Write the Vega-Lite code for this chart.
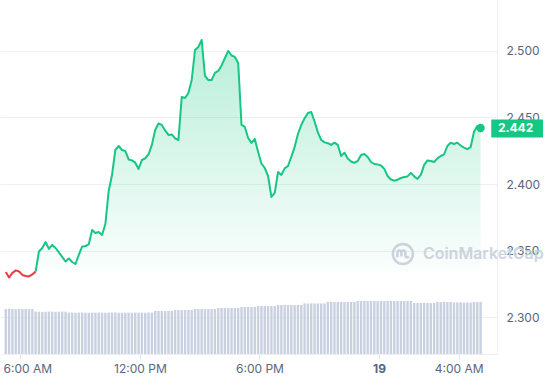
{
  "$schema": "https://vega.github.io/schema/vega-lite/v6.json",
  "width": 497,
  "height": 354,
  "autosize": {"type": "none"},
  "padding": {"left": 0, "top": 0, "right": 48, "bottom": 26},
  "background": "white",
  "config": {"view": {"stroke": null}, "font": "Inter"},
  "datasets": {
    "d": [
      {"t":"2024-03-18T05:16:00Z","p":2.3340,"v":5.08},
      {"t":"2024-03-18T05:26:00Z","p":2.3299,"v":5.10},
      {"t":"2024-03-18T05:36:00Z","p":2.3333,"v":5.08},
      {"t":"2024-03-18T05:46:00Z","p":2.3352,"v":5.06},
      {"t":"2024-03-18T05:56:00Z","p":2.3344,"v":5.10},
      {"t":"2024-03-18T06:06:00Z","p":2.3318,"v":5.08},
      {"t":"2024-03-18T06:16:00Z","p":2.3310,"v":5.09},
      {"t":"2024-03-18T06:26:00Z","p":2.3307,"v":5.06},
      {"t":"2024-03-18T06:36:00Z","p":2.3322,"v":5.08},
      {"t":"2024-03-18T06:46:00Z","p":2.3344,"v":4.80},
      {"t":"2024-03-18T06:56:00Z","p":2.3494,"v":4.78},
      {"t":"2024-03-18T07:06:00Z","p":2.3520,"v":4.76},
      {"t":"2024-03-18T07:16:00Z","p":2.3565,"v":4.78},
      {"t":"2024-03-18T07:26:00Z","p":2.3513,"v":4.79},
      {"t":"2024-03-18T07:36:00Z","p":2.3543,"v":4.78},
      {"t":"2024-03-18T07:46:00Z","p":2.3520,"v":4.77},
      {"t":"2024-03-18T07:56:00Z","p":2.3487,"v":4.78},
      {"t":"2024-03-18T08:06:00Z","p":2.3453,"v":4.79},
      {"t":"2024-03-18T08:16:00Z","p":2.3419,"v":4.78},
      {"t":"2024-03-18T08:26:00Z","p":2.3442,"v":4.67},
      {"t":"2024-03-18T08:36:00Z","p":2.3415,"v":4.67},
      {"t":"2024-03-18T08:46:00Z","p":2.3400,"v":4.66},
      {"t":"2024-03-18T08:56:00Z","p":2.3468,"v":4.67},
      {"t":"2024-03-18T09:06:00Z","p":2.3530,"v":4.68},
      {"t":"2024-03-18T09:16:00Z","p":2.3535,"v":4.67},
      {"t":"2024-03-18T09:26:00Z","p":2.3547,"v":4.66},
      {"t":"2024-03-18T09:36:00Z","p":2.3655,"v":4.67},
      {"t":"2024-03-18T09:46:00Z","p":2.3633,"v":4.67},
      {"t":"2024-03-18T09:56:00Z","p":2.3640,"v":4.68},
      {"t":"2024-03-18T10:06:00Z","p":2.3618,"v":4.67},
      {"t":"2024-03-18T10:16:00Z","p":2.3700,"v":4.66},
      {"t":"2024-03-18T10:26:00Z","p":2.3948,"v":4.67},
      {"t":"2024-03-18T10:36:00Z","p":2.4068,"v":4.67},
      {"t":"2024-03-18T10:46:00Z","p":2.4255,"v":4.68},
      {"t":"2024-03-18T10:56:00Z","p":2.4285,"v":4.67},
      {"t":"2024-03-18T11:06:00Z","p":2.4255,"v":4.67},
      {"t":"2024-03-18T11:16:00Z","p":2.4248,"v":4.66},
      {"t":"2024-03-18T11:26:00Z","p":2.4184,"v":4.67},
      {"t":"2024-03-18T11:36:00Z","p":2.4177,"v":4.67},
      {"t":"2024-03-18T11:46:00Z","p":2.4160,"v":4.68},
      {"t":"2024-03-18T11:56:00Z","p":2.4113,"v":4.67},
      {"t":"2024-03-18T12:06:00Z","p":2.4180,"v":4.67},
      {"t":"2024-03-18T12:16:00Z","p":2.4193,"v":4.67},
      {"t":"2024-03-18T12:26:00Z","p":2.4222,"v":4.68},
      {"t":"2024-03-18T12:36:00Z","p":2.4293,"v":4.67},
      {"t":"2024-03-18T12:46:00Z","p":2.4405,"v":4.86},
      {"t":"2024-03-18T12:56:00Z","p":2.4454,"v":4.86},
      {"t":"2024-03-18T13:06:00Z","p":2.4443,"v":4.85},
      {"t":"2024-03-18T13:16:00Z","p":2.4402,"v":4.86},
      {"t":"2024-03-18T13:26:00Z","p":2.4368,"v":4.87},
      {"t":"2024-03-18T13:36:00Z","p":2.4372,"v":4.86},
      {"t":"2024-03-18T13:46:00Z","p":2.4342,"v":4.97},
      {"t":"2024-03-18T13:56:00Z","p":2.4330,"v":4.98},
      {"t":"2024-03-18T14:06:00Z","p":2.4653,"v":4.97},
      {"t":"2024-03-18T14:16:00Z","p":2.4645,"v":4.96},
      {"t":"2024-03-18T14:26:00Z","p":2.4683,"v":4.97},
      {"t":"2024-03-18T14:36:00Z","p":2.4780,"v":4.97},
      {"t":"2024-03-18T14:46:00Z","p":2.5005,"v":5.08},
      {"t":"2024-03-18T14:56:00Z","p":2.5028,"v":5.08},
      {"t":"2024-03-18T15:06:00Z","p":2.5080,"v":5.09},
      {"t":"2024-03-18T15:16:00Z","p":2.4810,"v":5.08},
      {"t":"2024-03-18T15:26:00Z","p":2.4780,"v":5.08},
      {"t":"2024-03-18T15:36:00Z","p":2.4780,"v":5.07},
      {"t":"2024-03-18T15:46:00Z","p":2.4833,"v":5.08},
      {"t":"2024-03-18T15:56:00Z","p":2.4848,"v":5.20},
      {"t":"2024-03-18T16:06:00Z","p":2.4889,"v":5.20},
      {"t":"2024-03-18T16:16:00Z","p":2.4945,"v":5.21},
      {"t":"2024-03-18T16:26:00Z","p":2.4998,"v":5.20},
      {"t":"2024-03-18T16:36:00Z","p":2.4964,"v":5.20},
      {"t":"2024-03-18T16:46:00Z","p":2.4953,"v":5.19},
      {"t":"2024-03-18T16:56:00Z","p":2.4908,"v":5.20},
      {"t":"2024-03-18T17:06:00Z","p":2.4443,"v":5.31},
      {"t":"2024-03-18T17:16:00Z","p":2.4428,"v":5.31},
      {"t":"2024-03-18T17:26:00Z","p":2.4345,"v":5.32},
      {"t":"2024-03-18T17:36:00Z","p":2.4308,"v":5.31},
      {"t":"2024-03-18T17:46:00Z","p":2.4338,"v":5.31},
      {"t":"2024-03-18T17:56:00Z","p":2.4240,"v":5.42},
      {"t":"2024-03-18T18:06:00Z","p":2.4154,"v":5.42},
      {"t":"2024-03-18T18:16:00Z","p":2.4120,"v":5.43},
      {"t":"2024-03-18T18:26:00Z","p":2.4060,"v":5.42},
      {"t":"2024-03-18T18:36:00Z","p":2.3903,"v":5.42},
      {"t":"2024-03-18T18:46:00Z","p":2.3933,"v":5.42},
      {"t":"2024-03-18T18:56:00Z","p":2.4090,"v":5.54},
      {"t":"2024-03-18T19:06:00Z","p":2.4068,"v":5.54},
      {"t":"2024-03-18T19:16:00Z","p":2.4117,"v":5.55},
      {"t":"2024-03-18T19:26:00Z","p":2.4135,"v":5.54},
      {"t":"2024-03-18T19:36:00Z","p":2.4203,"v":5.54},
      {"t":"2024-03-18T19:46:00Z","p":2.4278,"v":5.54},
      {"t":"2024-03-18T19:56:00Z","p":2.4375,"v":5.53},
      {"t":"2024-03-18T20:06:00Z","p":2.4443,"v":5.54},
      {"t":"2024-03-18T20:16:00Z","p":2.4493,"v":5.71},
      {"t":"2024-03-18T20:26:00Z","p":2.4533,"v":5.71},
      {"t":"2024-03-18T20:36:00Z","p":2.4540,"v":5.72},
      {"t":"2024-03-18T20:46:00Z","p":2.4469,"v":5.71},
      {"t":"2024-03-18T20:56:00Z","p":2.4387,"v":5.71},
      {"t":"2024-03-18T21:06:00Z","p":2.4330,"v":5.70},
      {"t":"2024-03-18T21:16:00Z","p":2.4312,"v":5.71},
      {"t":"2024-03-18T21:26:00Z","p":2.4306,"v":5.88},
      {"t":"2024-03-18T21:36:00Z","p":2.4293,"v":5.88},
      {"t":"2024-03-18T21:46:00Z","p":2.4310,"v":5.89},
      {"t":"2024-03-18T21:56:00Z","p":2.4293,"v":5.88},
      {"t":"2024-03-18T22:06:00Z","p":2.4210,"v":5.88},
      {"t":"2024-03-18T22:16:00Z","p":2.4235,"v":5.87},
      {"t":"2024-03-18T22:26:00Z","p":2.4192,"v":5.88},
      {"t":"2024-03-18T22:36:00Z","p":2.4169,"v":5.88},
      {"t":"2024-03-18T22:46:00Z","p":2.4158,"v":5.88},
      {"t":"2024-03-18T22:56:00Z","p":2.4173,"v":5.99},
      {"t":"2024-03-18T23:06:00Z","p":2.4218,"v":5.99},
      {"t":"2024-03-18T23:16:00Z","p":2.4225,"v":6.00},
      {"t":"2024-03-18T23:26:00Z","p":2.4203,"v":5.99},
      {"t":"2024-03-18T23:36:00Z","p":2.4165,"v":5.99},
      {"t":"2024-03-18T23:46:00Z","p":2.4150,"v":5.99},
      {"t":"2024-03-18T23:56:00Z","p":2.4147,"v":5.98},
      {"t":"2024-03-19T00:06:00Z","p":2.4139,"v":5.99},
      {"t":"2024-03-19T00:16:00Z","p":2.4113,"v":5.99},
      {"t":"2024-03-19T00:26:00Z","p":2.4060,"v":5.99},
      {"t":"2024-03-19T00:36:00Z","p":2.4034,"v":6.00},
      {"t":"2024-03-19T00:46:00Z","p":2.4025,"v":5.99},
      {"t":"2024-03-19T00:56:00Z","p":2.4032,"v":5.99},
      {"t":"2024-03-19T01:06:00Z","p":2.4045,"v":5.99},
      {"t":"2024-03-19T01:16:00Z","p":2.4053,"v":5.98},
      {"t":"2024-03-19T01:26:00Z","p":2.4057,"v":5.99},
      {"t":"2024-03-19T01:36:00Z","p":2.4083,"v":5.99},
      {"t":"2024-03-19T01:46:00Z","p":2.4057,"v":5.76},
      {"t":"2024-03-19T01:56:00Z","p":2.4038,"v":5.76},
      {"t":"2024-03-19T02:06:00Z","p":2.4068,"v":5.77},
      {"t":"2024-03-19T02:16:00Z","p":2.4143,"v":5.76},
      {"t":"2024-03-19T02:26:00Z","p":2.4177,"v":5.76},
      {"t":"2024-03-19T02:36:00Z","p":2.4173,"v":5.75},
      {"t":"2024-03-19T02:46:00Z","p":2.4165,"v":5.76},
      {"t":"2024-03-19T02:56:00Z","p":2.4192,"v":5.88},
      {"t":"2024-03-19T03:06:00Z","p":2.4210,"v":5.88},
      {"t":"2024-03-19T03:16:00Z","p":2.4222,"v":5.89},
      {"t":"2024-03-19T03:26:00Z","p":2.4285,"v":5.88},
      {"t":"2024-03-19T03:36:00Z","p":2.4309,"v":5.88},
      {"t":"2024-03-19T03:46:00Z","p":2.4300,"v":5.82},
      {"t":"2024-03-19T03:56:00Z","p":2.4310,"v":5.82},
      {"t":"2024-03-19T04:06:00Z","p":2.4289,"v":5.83},
      {"t":"2024-03-19T04:16:00Z","p":2.4273,"v":5.82},
      {"t":"2024-03-19T04:26:00Z","p":2.4261,"v":5.82},
      {"t":"2024-03-19T04:36:00Z","p":2.4276,"v":5.81},
      {"t":"2024-03-19T04:46:00Z","p":2.4390,"v":5.88},
      {"t":"2024-03-19T04:56:00Z","p":2.4435,"v":5.88},
      {"t":"2024-03-19T05:06:00Z","p":2.4420,"v":5.88}
    ],
    "wm": [
      {"t": "2024-03-19T01:12:00Z", "p": 2.3475, "label": "CoinMarketCap"}
    ]
  },
  "data": {"name": "d"},
  "layer": [
    {
      "mark": {"type": "bar", "size": 2.4, "color": "#c9d0e0"},
      "encoding": {
        "x": {
          "field": "t", "type": "temporal",
          "scale": {"type": "utc", "domain": [
            {"year": 2024, "month": 3, "date": 18, "hours": 5, "minutes": 13, "seconds": 42, "utc": true},
            {"year": 2024, "month": 3, "date": 19, "hours": 5, "minutes": 40, "seconds": 24, "utc": true}
          ]},
          "axis": {
            "title": null,
            "grid": false,
            "values": [
              {"year": 2024, "month": 3, "date": 18, "hours": 6, "utc": true},
              {"year": 2024, "month": 3, "date": 18, "hours": 12, "utc": true},
              {"year": 2024, "month": 3, "date": 18, "hours": 18, "utc": true},
              {"year": 2024, "month": 3, "date": 19, "hours": 0, "utc": true},
              {"year": 2024, "month": 3, "date": 19, "hours": 4, "utc": true}
            ],
            "labelExpr": "utcFormat(datum.value, '%H') == '00' ? utcFormat(datum.value, '%-d') : utcFormat(datum.value, '%-I:%M %p')",
            "labelFontWeight": {"condition": {"test": "utcFormat(datum.value, '%H') == '00'", "value": "bold"}, "value": "normal"},
            "labelOffset": {"condition": {"test": "utcFormat(datum.value, '%d %H') == '18 06'", "value": 7}, "value": 0},
            "labelColor": "#58667e",
            "labelFontSize": 12,
            "labelPadding": 4,
            "labelFlush": false,
            "labelOverlap": false,
            "tickColor": "#e3e6ec",
            "tickSize": 5,
            "domainColor": "#eef0f3"
          }
        },
        "y": {"field": "v", "type": "quantitative", "scale": {"domain": [0, 40]}, "axis": null}
      }
    },
    {
      "encoding": {
        "y": {
          "field": "p", "type": "quantitative",
          "scale": {"domain": [2.2725, 2.538], "nice": false, "zero": false},
          "axis": {
            "orient": "right",
            "title": null,
            "values": [2.3, 2.35, 2.4, 2.45, 2.5],
            "format": ".3f",
            "grid": true,
            "gridColor": "#eef0f3",
            "ticks": false,
            "domain": true,
            "domainColor": "#eef0f3",
            "labelPadding": 9,
            "labelColor": "#58667e",
            "labelFontSize": 12
          }
        }
      },
      "layer": [
        {
          "transform": [{"filter": "datum.t >= utc(2024, 2, 18, 6, 46)"}],
          "mark": {
            "type": "area",
            "color": {
              "gradient": "linear", "x1": 0, "y1": 0, "x2": 0, "y2": 1,
              "stops": [
                {"offset": 0, "color": "rgba(22,199,132,0.30)"},
                {"offset": 1, "color": "rgba(22,199,132,0.02)"}
              ]
            }
          },
          "encoding": {
            "x": {"field": "t", "type": "temporal", "scale": {"type": "utc"}},
            "y2": {"datum": 2.334}
          }
        },
        {
          "data": {"values": [{}]},
          "mark": {"type": "rule", "color": "#8c95a6", "strokeWidth": 1, "strokeDash": [1, 4]},
          "encoding": {"y": {"datum": 2.334}}
        },
        {
          "transform": [{"filter": "datum.t <= utc(2024, 2, 18, 6, 46)"}],
          "mark": {"type": "line", "color": "#ea3943", "strokeWidth": 2, "strokeJoin": "round"},
          "encoding": {"x": {"field": "t", "type": "temporal", "scale": {"type": "utc"}}}
        },
        {
          "transform": [{"filter": "datum.t >= utc(2024, 2, 18, 6, 46)"}],
          "mark": {"type": "line", "color": "#16c784", "strokeWidth": 2, "strokeJoin": "round"},
          "encoding": {"x": {"field": "t", "type": "temporal", "scale": {"type": "utc"}}}
        },
        {
          "transform": [{"filter": "datum.t >= utc(2024, 2, 19, 5, 6)"}],
          "mark": {"type": "point", "shape": "circle", "filled": true, "size": 70, "color": "#16c784", "opacity": 1},
          "encoding": {"x": {"field": "t", "type": "temporal", "scale": {"type": "utc"}}}
        },
        {
          "transform": [{"filter": "datum.t >= utc(2024, 2, 19, 5, 6)"}],
          "mark": {"type": "point", "shape": "M0.214,-0.17L1.25,-0.17L1.25,0.19L0.214,0.19Z", "filled": true, "size": 10000, "color": "#16c784", "opacity": 1, "strokeWidth": 0},
          "encoding": {"x": {"field": "t", "type": "temporal", "scale": {"type": "utc"}}}
        },
        {
          "transform": [{"filter": "datum.t >= utc(2024, 2, 19, 5, 6)"}],
          "mark": {"type": "text", "dx": 35, "align": "center", "baseline": "middle", "color": "white", "fontWeight": "bold", "fontSize": 12},
          "encoding": {
            "x": {"field": "t", "type": "temporal", "scale": {"type": "utc"}},
            "text": {"field": "p", "type": "quantitative", "format": ".3f"}
          }
        },
        {
          "data": {"name": "wm"},
          "mark": {"type": "point", "shape": "circle", "filled": false, "size": 400, "strokeWidth": 2.5, "color": "#c9cfda", "opacity": 0.9},
          "encoding": {"x": {"field": "t", "type": "temporal", "scale": {"type": "utc"}}}
        },
        {
          "data": {"name": "wm"},
          "mark": {"type": "point", "shape": "M-0.55,0.35L-0.55,-0.05C-0.55,-0.45,-0.15,-0.45,-0.15,-0.05L-0.15,0.25M-0.15,-0.05C-0.15,-0.45,0.25,-0.45,0.25,-0.05L0.25,0.15C0.25,0.35,0.45,0.4,0.6,0.25", "filled": false, "size": 400, "strokeWidth": 2.5, "color": "#c9cfda", "opacity": 0.9},
          "encoding": {"x": {"field": "t", "type": "temporal", "scale": {"type": "utc"}}}
        },
        {
          "data": {"name": "wm"},
          "mark": {"type": "text", "dx": 20, "dy": 0, "align": "left", "baseline": "middle", "fontSize": 16, "fontWeight": 600, "color": "#c9cfda", "opacity": 0.9},
          "encoding": {
            "x": {"field": "t", "type": "temporal", "scale": {"type": "utc"}},
            "text": {"field": "label", "type": "nominal"}
          }
        }
      ]
    }
  ],
  "resolve": {"scale": {"y": "independent"}}
}
